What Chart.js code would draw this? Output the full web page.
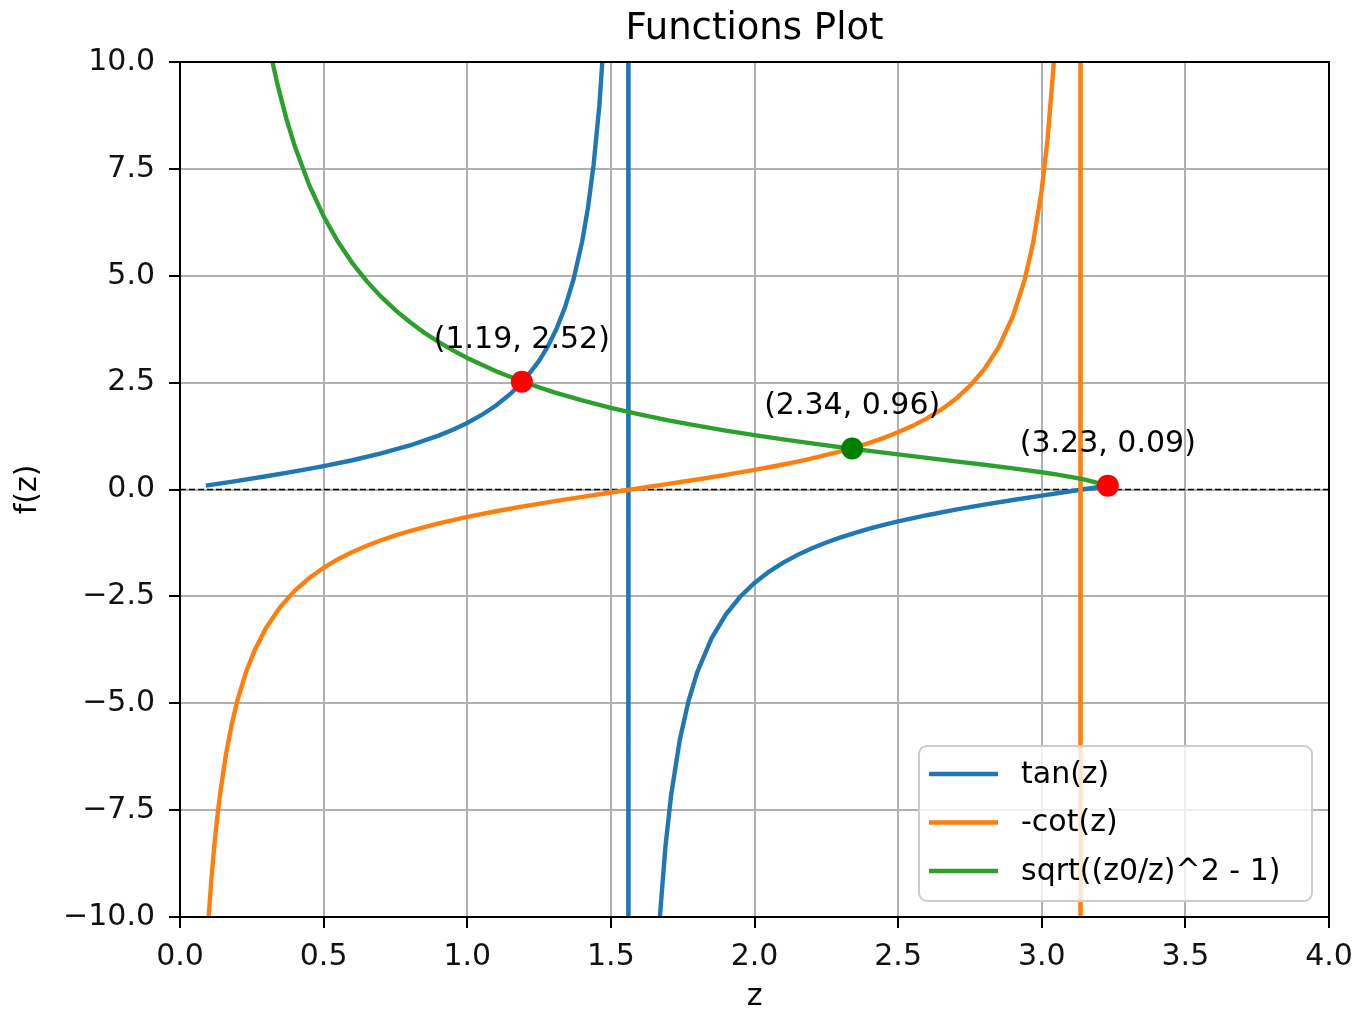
<!DOCTYPE html>
<html>
<head>
<meta charset="utf-8">
<script src="https://cdn.jsdelivr.net/npm/chart.js@4.4.1/dist/chart.umd.min.js"></script>
<style>
  html, body { margin: 0; padding: 0; background: #fff; }
  canvas { display: block; }
</style>
</head>
<body>
<canvas id="chart" width="1367" height="1017"></canvas>
<script>
// curve samples (denser where the curves bend hard)
const tanZ = [0.09, 0.2, 0.3, 0.4, 0.5, 0.6, 0.7, 0.8, 0.9, 0.95, 1.0, 1.05, 1.1, 1.15, 1.2, 1.25,
  1.28, 1.31, 1.34, 1.37, 1.40, 1.42, 1.44, 1.46, 1.48, 1.50, 1.52, 1.54, 1.5601,
  1.5613, 1.60, 1.63, 1.65, 1.67, 1.69, 1.71, 1.74, 1.77, 1.80, 1.85, 1.90, 1.95,
  2.0, 2.05, 2.1, 2.15, 2.2, 2.25, 2.3, 2.35, 2.4, 2.45, 2.5, 2.6, 2.7, 2.8, 2.9, 3.0, 3.1, 3.2, 3.235];
const tanY = [0.0902, 0.2027, 0.3093, 0.4228, 0.5463, 0.6841, 0.8423, 1.0296, 1.2602, 1.3984, 1.5574, 1.7433, 1.9648, 2.2345, 2.5722, 3.0096,
  3.3414, 3.7470, 4.2555, 4.9130, 5.7978, 6.5811, 7.6017, 8.9880, 10.983, 14.100, 19.67, 32.46, 100,
  -100, -34.24, -16.872, -12.600, -10.047, -8.3496, -7.1374, -5.8537, -4.9535, -4.2863, -3.4881, -2.9271, -2.5095,
  -2.1850, -1.9246, -1.7098, -1.5290, -1.3738, -1.2386, -1.1192, -1.0124, -0.9160, -0.8280, -0.7470, -0.6016, -0.4727, -0.3555, -0.2464, -0.1425, -0.0416, 0.0585, 0.0937];

const cotZ = [0.09, 0.10, 0.11, 0.12, 0.13, 0.14, 0.16, 0.18, 0.20, 0.23, 0.26, 0.30, 0.35, 0.40, 0.45,
  0.5, 0.55, 0.6, 0.65, 0.7, 0.75, 0.8, 0.9, 1.0, 1.1, 1.2, 1.3, 1.4, 1.5, 1.6, 1.7, 1.8, 1.9, 2.0,
  2.05, 2.1, 2.15, 2.2, 2.25, 2.3, 2.35, 2.4, 2.45, 2.5, 2.55, 2.6, 2.65, 2.7, 2.75, 2.8, 2.85, 2.9, 2.94, 2.97, 3.0, 3.02, 3.04,
  3.06, 3.08, 3.10, 3.12, 3.1342, 3.1352, 3.17, 3.2, 3.235];
const cotY = [-11.081, -9.9666, -9.0543, -8.2933, -7.6488, -7.0959, -6.1966, -5.4950, -4.9332, -4.2704, -3.7586, -3.2327, -2.7395, -2.3652, -2.0702,
  -1.8305, -1.6311, -1.4617, -1.3154, -1.1872, -1.0734, -0.9712, -0.7936, -0.6421, -0.5090, -0.3888, -0.2776, -0.1725, -0.0709, 0.0292, 0.1299, 0.2333, 0.3416, 0.4577,
  0.5196, 0.5848, 0.6540, 0.7279, 0.8074, 0.8935, 0.9877, 1.0917, 1.2077, 1.3386, 1.4884, 1.6622, 1.8676, 2.1157, 2.4217, 2.8127, 3.3316, 4.0578, 4.8929, 5.7703, 7.0152, 8.1831, 9.8087,
  12.228, 16.213, 24.025, 46.3, 100, -100, -35.8, -17.1, -10.68];

const sqrtZ = [0.28, 0.30, 0.32, 0.34, 0.37, 0.40, 0.45, 0.50, 0.55, 0.60, 0.65, 0.70, 0.75, 0.80, 0.85, 0.90, 0.95,
  1.0, 1.1, 1.2, 1.3, 1.4, 1.5, 1.6, 1.7, 1.8, 1.9, 2.0, 2.1, 2.2, 2.3, 2.4, 2.5, 2.6, 2.7, 2.8, 2.9,
  3.0, 3.05, 3.1, 3.15, 3.2, 3.22, 3.234];
const sqrtY = [11.507, 10.734, 10.057, 9.4591, 8.6832, 8.0229, 7.1169, 6.3902, 5.7943, 5.2964, 4.8739, 4.5105, 4.1944, 3.9169, 3.6709, 3.4514, 3.2541,
  3.0755, 2.7647, 2.5026, 2.2778, 2.0823, 1.9101, 1.7566, 1.6183, 1.4927, 1.3774, 1.2707, 1.1712, 1.0775, 0.9885, 0.9032, 0.8206, 0.7397, 0.6593, 0.5779, 0.4936,
  0.4026, 0.3526, 0.2972, 0.2325, 0.1462, 0.0934, 0.0];

// marked intersections
const markerX = [1.19, 2.34, 3.23];
const markerY = [2.52, 0.96, 0.09];
const markerColors = ['#ff0000', '#008000', '#ff0000'];

const seriesNames = ['tan(z)', '-cot(z)', 'sqrt((z0/z)^2 - 1)'];
const seriesColors = ['#1f77b4', '#ff7f0e', '#2ca02c'];

const FONT = '"DejaVu Sans", "Liberation Sans", sans-serif';

const toPoints = (xs, ys) => xs.map((z, i) => ({x: z, y: ys[i]}));

const lineDs = (i, xs, ys, order) => ({
  label: seriesNames[i],
  data: toPoints(xs, ys),
  showLine: true,
  borderColor: seriesColors[i],
  backgroundColor: seriesColors[i],
  borderWidth: 4.4,
  pointRadius: 0,
  tension: 0,
  order: order
});

const decorations = {
  id: 'decorations',
  afterDraw(chart) {
    const {ctx, chartArea: a, scales} = chart;
    const xs = scales.x, ys = scales.y;
    ctx.save();

    // box around the axes
    ctx.strokeStyle = '#000';
    ctx.lineWidth = 2;
    ctx.strokeRect(a.left, a.top, a.right - a.left, a.bottom - a.top);

    // point labels
    ctx.fillStyle = '#000';
    ctx.font = '30px ' + FONT;
    ctx.textAlign = 'center';
    ctx.textBaseline = 'alphabetic';
    markerX.forEach((v, i) => {
      ctx.fillText('(' + v.toFixed(2) + ', ' + markerY[i].toFixed(2) + ')',
        xs.getPixelForValue(v), ys.getPixelForValue(markerY[i]) - 34);
    });

    // title and axis labels
    const cx = (a.left + a.right) / 2;
    ctx.font = '37px ' + FONT;
    ctx.fillText('Functions Plot', cx, 39);
    ctx.font = '30px ' + FONT;
    ctx.fillText('z', cx, 1005);
    ctx.save();
    ctx.translate(28, (a.top + a.bottom) / 2);
    ctx.rotate(-Math.PI / 2);
    ctx.textBaseline = 'middle';
    ctx.fillText('f(z)', 0, 0);
    ctx.restore();

    // legend
    const right = a.right - 17, bottom = a.bottom - 16;
    const w = 393, h = 155;
    const left = right - w, top = bottom - h;
    ctx.beginPath();
    ctx.roundRect(left, top, w, h, 8);
    ctx.fillStyle = 'rgba(255,255,255,0.8)';
    ctx.fill();
    ctx.strokeStyle = '#cccccc';
    ctx.lineWidth = 2;
    ctx.stroke();
    ctx.textAlign = 'left';
    ctx.textBaseline = 'middle';
    seriesNames.forEach((name, i) => {
      const yy = top + 28 + i * 48.5;
      ctx.beginPath();
      ctx.moveTo(left + 10, yy);
      ctx.lineTo(left + 79, yy);
      ctx.strokeStyle = seriesColors[i];
      ctx.lineWidth = 4.4;
      ctx.stroke();
      ctx.fillStyle = '#000';
      ctx.fillText(name, left + 102, yy + 1);
    });
    ctx.restore();
  }
};

new Chart(document.getElementById('chart'), {
  type: 'scatter',
  data: {
    datasets: [
      {
        label: 'markers',
        data: markerX.map((v, i) => ({x: v, y: markerY[i]})),
        pointRadius: 11,
        pointBorderWidth: 0,
        pointBackgroundColor: markerColors,
        showLine: false,
        order: 0
      },
      lineDs(2, sqrtZ, sqrtY, 1),
      lineDs(1, cotZ, cotY, 2),
      lineDs(0, tanZ, tanY, 3),
      {
        label: 'zero',
        data: [{x: 0, y: 0}, {x: 4, y: 0}],
        showLine: true,
        borderColor: '#000',
        borderWidth: 1.3,
        borderDash: [6, 3],
        pointRadius: 0,
        order: 4
      }
    ]
  },
  options: {
    responsive: false,
    devicePixelRatio: 1,
    animation: false,
    layout: { padding: { left: 0, right: 38, top: 62, bottom: 0 } },
    plugins: {
      legend: { display: false },
      title: { display: false },
      tooltip: { enabled: false }
    },
    scales: {
      x: {
        type: 'linear',
        min: 0,
        max: 4,
        afterFit: (scale) => { scale.height = 100; },
        border: { display: false },
        grid: { color: '#b0b0b0', lineWidth: 2, tickLength: 11, tickColor: '#000', tickWidth: 2 },
        ticks: {
          stepSize: 0.5,
          autoSkip: false,
          maxRotation: 0,
          padding: 11,
          color: '#111',
          font: { family: FONT, size: 30 },
          callback: (v) => v.toFixed(1)
        }
      },
      y: {
        type: 'linear',
        min: -10,
        max: 10,
        afterFit: (scale) => { scale.width = 180; },
        border: { display: false },
        grid: { color: '#b0b0b0', lineWidth: 2, tickLength: 11, tickColor: '#000', tickWidth: 2 },
        ticks: {
          stepSize: 2.5,
          autoSkip: false,
          padding: 14,
          color: '#111',
          font: { family: FONT, size: 30 },
          callback: (v) => (v < 0 ? '\u2212' : '') + Math.abs(v).toFixed(1)
        }
      }
    }
  },
  plugins: [decorations]
});
</script>
</body>
</html>
